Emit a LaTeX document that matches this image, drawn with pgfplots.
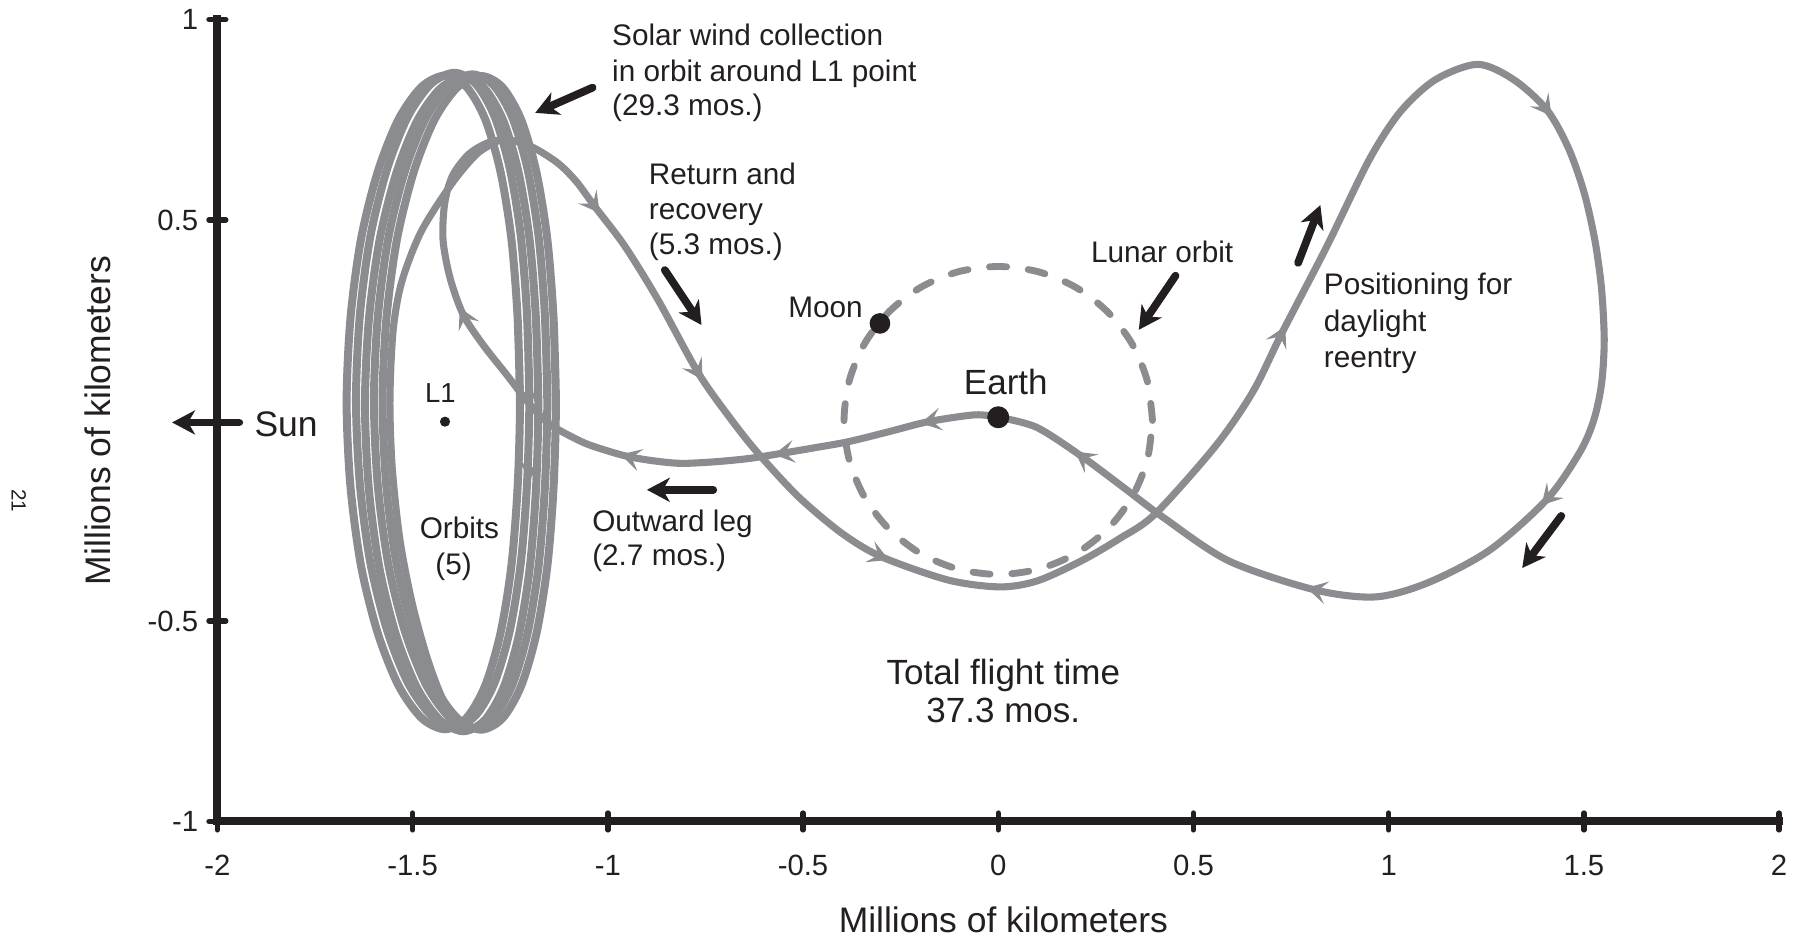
\documentclass[border=0pt]{standalone}
\usepackage{fontspec}
\setmainfont{Liberation Sans}
\usepackage{pgfplots}
\pgfplotsset{compat=1.18}
\usetikzlibrary{arrows.meta}

\definecolor{trajgray}{RGB}{138,140,143}
\definecolor{inkblack}{RGB}{35,31,32}
\newcommand{\anno}{\fontsize{13}{15.6}\selectfont}
\newcommand{\bigfont}{\fontsize{15.3}{18}\selectfont}

\begin{document}
\begin{tikzpicture}
\useasboundingbox (-95pt,-52.5pt) rectangle (689pt,359pt);
\begin{axis}[
    scale only axis,
    width=682.5pt, height=350.5pt,
    xmin=-2, xmax=2, ymin=-1, ymax=1,
    axis x line*=bottom, axis y line*=left,
    axis line style={line width=3.5pt, inkblack, line cap=rect},
    xtick={-2,-1.5,-1,-0.5,0,0.5,1,1.5,2},
    ytick={-1,-0.5,0.5,1},
    tick align=center, major tick length=7.3pt,
    tick style={line width=2.4pt, inkblack, line cap=round},
    ticklabel style={font=\fontsize{12.8}{15}\selectfont, text=inkblack},
    /pgf/number format/assume math mode=true,
    xticklabel style={yshift=-7.5pt},
    yticklabel style={xshift=-1.2pt},
    clip=false,
]

% lunar orbit
\addplot[trajgray, line width=3pt, line cap=round, dash pattern=on 7.5pt off 9.5pt, smooth] coordinates {
    (0.395,0) (0.3815,0.0994) (0.3421,0.192) (0.2793,0.2715) (0.1975,0.3326) (0.1022,0.3709)
    (0,0.384) (-0.1022,0.3709) (-0.1975,0.3326) (-0.2793,0.2715) (-0.3421,0.192) (-0.3815,0.0994)
    (-0.395,0) (-0.3815,-0.0994) (-0.3421,-0.192) (-0.2793,-0.2715) (-0.1975,-0.3326) (-0.1022,-0.3709)
    (0,-0.384) (0.1022,-0.3709) (0.1975,-0.3326) (0.2793,-0.2715) (0.3421,-0.192) (0.3815,-0.0994)
    (0.395,0)
};

% halo orbits around L1 (5)
\addplot[trajgray, line width=3.5pt, smooth] coordinates {
    (-1.225,0.045) (-1.231,0.256) (-1.247,0.453) (-1.275,0.621) (-1.314,0.751) (-1.362,0.832)
    (-1.417,0.860) (-1.477,0.832) (-1.536,0.751) (-1.589,0.621) (-1.632,0.453) (-1.659,0.256)
    (-1.669,0.045) (-1.659,-0.166) (-1.632,-0.363) (-1.589,-0.531) (-1.536,-0.661) (-1.477,-0.742)
    (-1.417,-0.770) (-1.362,-0.742) (-1.314,-0.661) (-1.275,-0.531) (-1.247,-0.363) (-1.231,-0.166)
    (-1.225,0.045) (-1.231,0.256)
};
\addplot[trajgray, line width=3.5pt, smooth] coordinates {
    (-1.201,0.052) (-1.207,0.263) (-1.223,0.460) (-1.251,0.628) (-1.290,0.758) (-1.338,0.839)
    (-1.393,0.867) (-1.453,0.839) (-1.512,0.758) (-1.565,0.628) (-1.608,0.460) (-1.635,0.263)
    (-1.645,0.052) (-1.635,-0.159) (-1.608,-0.356) (-1.565,-0.524) (-1.512,-0.654) (-1.453,-0.735)
    (-1.393,-0.763) (-1.338,-0.735) (-1.290,-0.654) (-1.251,-0.524) (-1.223,-0.356) (-1.207,-0.159)
    (-1.201,0.052) (-1.207,0.263)
};
\addplot[trajgray, line width=3.5pt, smooth] coordinates {
    (-1.178,0.040) (-1.184,0.251) (-1.200,0.448) (-1.228,0.616) (-1.267,0.746) (-1.315,0.827)
    (-1.370,0.855) (-1.430,0.827) (-1.489,0.746) (-1.542,0.616) (-1.585,0.448) (-1.612,0.251)
    (-1.622,0.040) (-1.612,-0.171) (-1.585,-0.368) (-1.542,-0.536) (-1.489,-0.666) (-1.430,-0.747)
    (-1.370,-0.775) (-1.315,-0.747) (-1.267,-0.666) (-1.228,-0.536) (-1.200,-0.368) (-1.184,-0.171)
    (-1.178,0.040) (-1.184,0.251)
};
\addplot[trajgray, line width=3.5pt, smooth] coordinates {
    (-1.155,0.048) (-1.161,0.259) (-1.177,0.456) (-1.205,0.624) (-1.244,0.754) (-1.292,0.835)
    (-1.347,0.863) (-1.407,0.835) (-1.466,0.754) (-1.519,0.624) (-1.562,0.456) (-1.589,0.259)
    (-1.599,0.048) (-1.589,-0.163) (-1.562,-0.360) (-1.519,-0.528) (-1.466,-0.658) (-1.407,-0.739)
    (-1.347,-0.767) (-1.292,-0.739) (-1.244,-0.658) (-1.205,-0.528) (-1.177,-0.360) (-1.161,-0.163)
    (-1.155,0.048) (-1.161,0.259)
};
\addplot[trajgray, line width=3.5pt, smooth] coordinates {
    (-1.133,0.044) (-1.139,0.255) (-1.155,0.452) (-1.183,0.620) (-1.222,0.750) (-1.270,0.831)
    (-1.325,0.859) (-1.385,0.831) (-1.444,0.750) (-1.497,0.620) (-1.540,0.452) (-1.567,0.255)
    (-1.577,0.044) (-1.567,-0.167) (-1.540,-0.364) (-1.497,-0.532) (-1.444,-0.662) (-1.385,-0.743)
    (-1.325,-0.771) (-1.270,-0.743) (-1.222,-0.662) (-1.183,-0.532) (-1.155,-0.364) (-1.139,-0.167)
    (-1.133,0.044) (-1.139,0.255)
};

% inner arc of the last orbit
\addplot[trajgray, line width=3.1pt, smooth] coordinates {
    (-1.28,0.698) (-1.335,0.665) (-1.40,0.59) (-1.478,0.471) (-1.528,0.345) (-1.550,0.223)
    (-1.558,0.05) (-1.552,-0.12) (-1.532,-0.30) (-1.50,-0.46) (-1.46,-0.60) (-1.42,-0.70) (-1.38,-0.75)
};

% outward leg, return and recovery, positioning loop
\addplot[trajgray, line width=3.1pt, smooth] coordinates {
    (0,0.008) (-0.06,0.014) (-0.179,-0.003) (-0.28,-0.028) (-0.384,-0.053) (-0.47,-0.068)
    (-0.555,-0.082) (-0.64,-0.095) (-0.726,-0.103) (-0.811,-0.107) (-0.88,-0.101) (-0.948,-0.090)
    (-1.010,-0.073) (-1.067,-0.053) (-1.148,-0.010) (-1.199,0.039) (-1.259,0.114) (-1.319,0.188)
    (-1.370,0.263) (-1.404,0.355) (-1.422,0.45) (-1.418,0.54) (-1.398,0.610) (-1.355,0.665)
    (-1.300,0.695) (-1.245,0.698) (-1.190,0.680) (-1.127,0.641) (-1.080,0.595) (-1.033,0.533)
    (-0.956,0.434) (-0.871,0.300) (-0.768,0.118) (-0.683,0.001) (-0.615,-0.082) (-0.512,-0.190)
    (-0.401,-0.281) (-0.299,-0.340) (-0.128,-0.398) (0.004,-0.415) (0.10,-0.40) (0.213,-0.350)
    (0.31,-0.295) (0.402,-0.233) (0.558,-0.062) (0.653,0.073) (0.726,0.217) (0.841,0.433)
    (0.950,0.650) (1.030,0.770) (1.12,0.850) (1.228,0.888) (1.32,0.85) (1.405,0.775)
    (1.46,0.68) (1.50,0.57) (1.528,0.45) (1.545,0.33) (1.552,0.20) (1.545,0.09) (1.525,0.0)
    (1.489,-0.080) (1.405,-0.197)
    (1.259,-0.323) (1.102,-0.404) (0.966,-0.440) (0.809,-0.422) (0.590,-0.350) (0.423,-0.242)
    (0.318,-0.165) (0.213,-0.089) (0.098,-0.017) (0,0.008)
};

% direction arrowheads on the path
\addplot[trajgray, line width=0.8pt, -{Stealth[length=9pt,width=10pt,inset=4pt]},
    quiver={u=\thisrow{u},v=\thisrow{v}}] table {
x       y       u        v
-0.179  -0.003  -0.0196  -0.0038
-0.555  -0.082  -0.0198  -0.0030
-0.948  -0.090  -0.0192   0.0054
-1.370   0.263  -0.0090   0.0178
-1.033   0.533   0.0122  -0.0158
-0.768   0.118   0.0106  -0.0170
-0.299  -0.340   0.0184  -0.0078
 0.726   0.217   0.0092   0.0178
 1.405   0.775   0.0122  -0.0158
 1.405  -0.197  -0.0138  -0.0146
 0.809  -0.422  -0.0194   0.0046
 0.213  -0.089  -0.0162   0.0116
-1.200  -0.130  -0.0010  -0.0200
-1.205   0.050  -0.0010  -0.0200
};

% Earth, Moon, L1
\addplot[only marks, mark=*, mark size=4.6pt, mark options={fill=inkblack, draw=inkblack}] coordinates {(0,0.008)};
\addplot[only marks, mark=*, mark size=4.3pt, mark options={fill=inkblack, draw=inkblack}] coordinates {(-0.303,0.242)};
\addplot[only marks, mark=*, mark size=2pt, mark options={fill=inkblack, draw=inkblack}] coordinates {(-1.417,-0.003)};

% black pointer arrows
\begin{scope}[inkblack, line width=3.4pt, line cap=round, -{Stealth[length=10pt,width=10.5pt,inset=3pt]}]
\draw (axis cs:-1.039,0.830) -- (axis cs:-1.186,0.767);
\draw (axis cs:-0.854,0.375) -- (axis cs:-0.760,0.238);
\draw (axis cs:0.454,0.361) -- (axis cs:0.360,0.226);
\draw (axis cs:0.768,0.393) -- (axis cs:0.825,0.537);
\draw (axis cs:1.442,-0.238) -- (axis cs:1.342,-0.368);
\draw (axis cs:-0.730,-0.173) -- (axis cs:-0.900,-0.173);
\draw (axis cs:-1.944,-0.005) -- (axis cs:-2.116,-0.005);
\end{scope}

% labels
\begin{scope}[text=inkblack, inner sep=0pt]
\node[anchor=base west, font=\anno] at (axis cs:-0.990,0.934) {Solar wind collection};
\node[anchor=base west, font=\anno] at (axis cs:-0.990,0.845) {in orbit around L1 point};
\node[anchor=base west, font=\anno] at (axis cs:-0.990,0.760) {(29.3 mos.)};
\node[anchor=base west, font=\anno] at (axis cs:-0.896,0.588) {Return and};
\node[anchor=base west, font=\anno] at (axis cs:-0.896,0.501) {recovery};
\node[anchor=base west, font=\anno] at (axis cs:-0.896,0.415) {(5.3 mos.)};
\node[anchor=base east, font=\anno] at (axis cs:-0.346,0.257) {Moon};
\node[anchor=base west, font=\bigfont] at (axis cs:-0.089,0.064) {Earth};
\node[anchor=base west, font=\anno] at (axis cs:0.2365,0.395) {Lunar orbit};
\node[anchor=base west, font=\anno] at (axis cs:0.833,0.314) {Positioning for};
\node[anchor=base west, font=\anno] at (axis cs:0.833,0.222) {daylight};
\node[anchor=base west, font=\anno] at (axis cs:0.833,0.132) {reentry};
\node[anchor=base west, font=\anno] at (axis cs:-1.041,-0.277) {Outward leg};
\node[anchor=base west, font=\anno] at (axis cs:-1.041,-0.362) {(2.7 mos.)};
\node[anchor=base, font=\fontsize{12}{14}\selectfont] at (axis cs:-1.429,0.045) {L1};
\node[anchor=base, font=\anno] at (axis cs:-1.380,-0.294) {Orbits};
\node[anchor=base, font=\anno] at (axis cs:-1.395,-0.385) {(5)};
\node[anchor=base, font=\bigfont] at (axis cs:0.013,-0.659) {Total flight time};
\node[anchor=base, font=\bigfont] at (axis cs:0.013,-0.753) {37.3 mos.};
\node[anchor=base west, font=\fontsize{15.5}{18}\selectfont] at (axis cs:-1.906,-0.040) {Sun};
\node[anchor=base, font=\fontsize{15.5}{18}\selectfont] at (axis cs:0.013,-1.278) {Millions of kilometers};
\node[anchor=base, rotate=90, font=\fontsize{15.5}{18}\selectfont] at (axis cs:-2.273,0) {Millions of kilometers};
\node[anchor=base, rotate=-90, font=\fontsize{9}{11}\selectfont] at (axis cs:-2.527,-0.200) {21};
\end{scope}

\end{axis}
\end{tikzpicture}
\end{document}
